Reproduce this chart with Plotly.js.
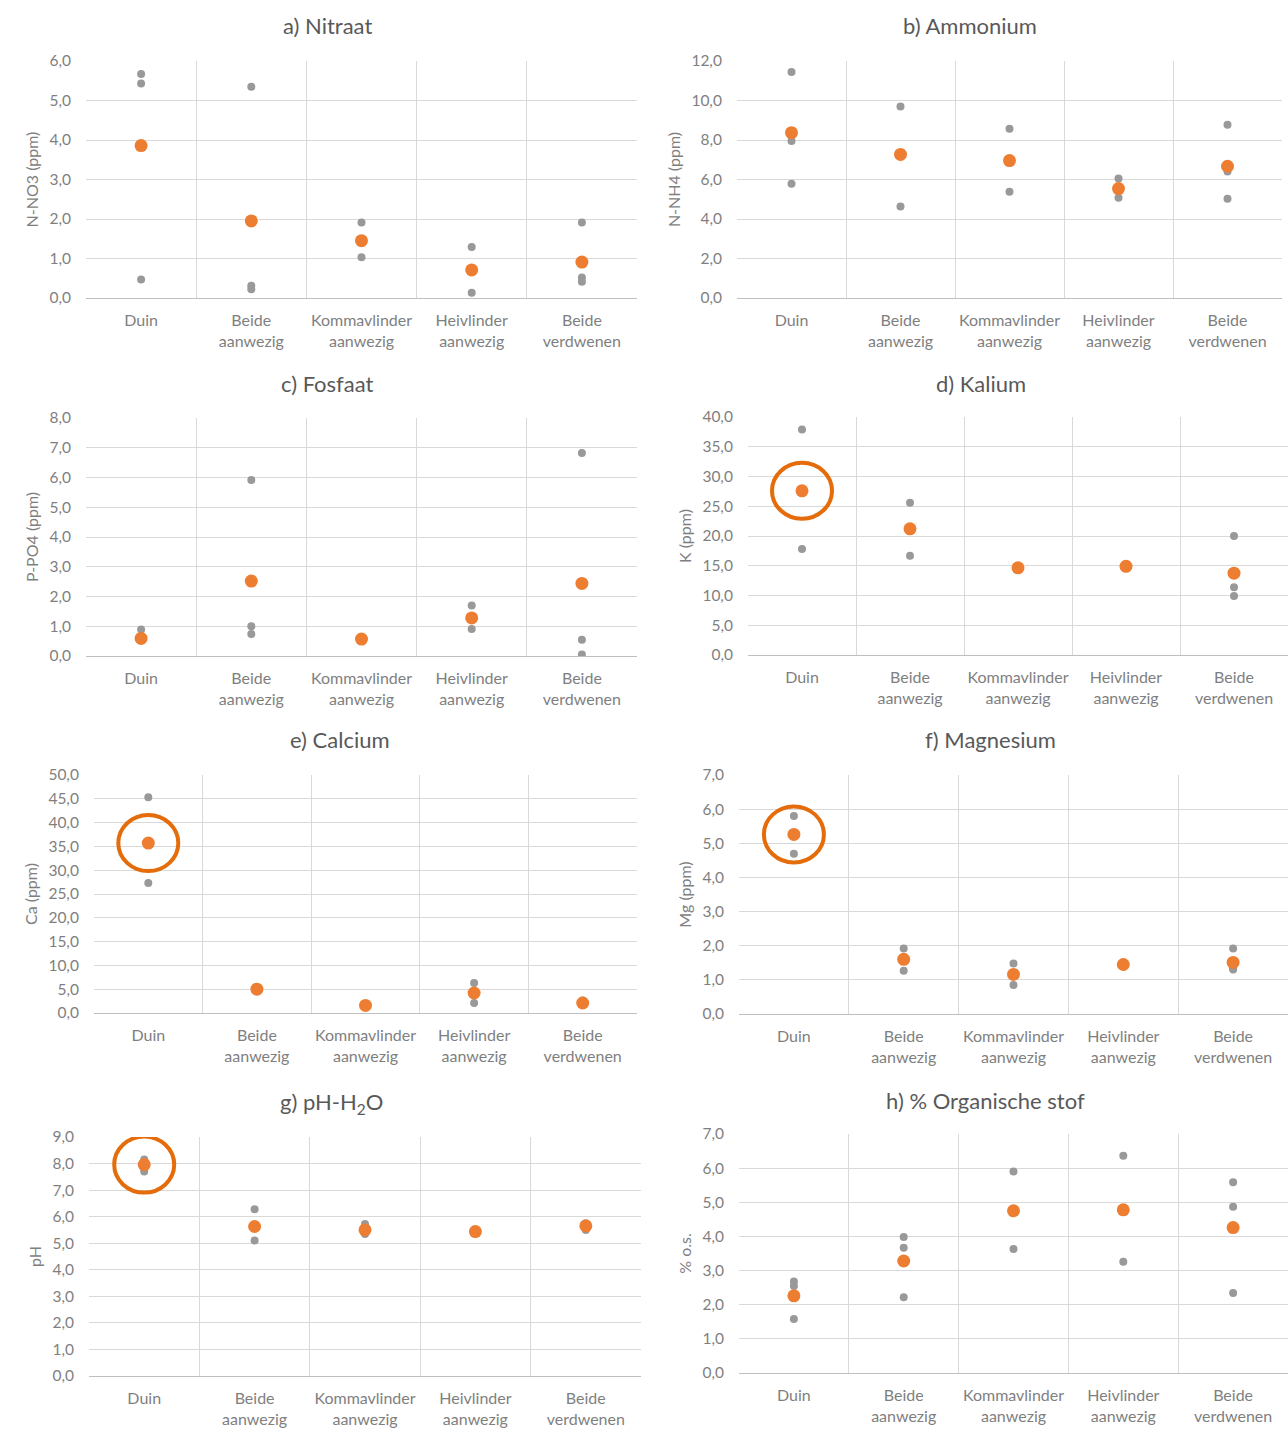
<!DOCTYPE html>
<html>
<head>
<meta charset="utf-8">
<script src="https://cdn.plot.ly/plotly-3.0.1.min.js"></script>
<style>
  html, body { margin: 0; padding: 0; background: #ffffff; }
  #chart { width: 1288px; height: 1440px; }
</style>
</head>
<body>
<div id="chart"></div>
<script>
// ---------- DATA ----------
const categories = ["Duin", "Beide<br>aanwezig", "Kommavlinder<br>aanwezig", "Heivlinder<br>aanwezig", "Beide<br>verdwenen"];

// individual samples per category (gray) and category means (orange)
const nitraatSamples = [[5.67, 5.43, 0.47], [5.35, 0.31, 0.22], [1.91, 1.03], [1.29, 0.13], [1.91, 0.52, 0.41]];
const nitraatMeans = [3.86, 1.95, 1.45, 0.71, 0.91];

const ammoniumSamples = [[11.44, 7.95, 5.78], [9.69, 7.3, 4.63], [8.57, 5.38], [6.05, 5.07], [8.77, 6.4, 5.02]];
const ammoniumMeans = [8.37, 7.27, 6.96, 5.54, 6.67];

const fosfaatSamples = [[0.89, 0.55], [5.92, 1.0, 0.74], [0.62, 0.55], [1.70, 0.91], [6.82, 0.55, 0.05]];
const fosfaatMeans = [0.59, 2.52, 0.57, 1.28, 2.44];

const kaliumSamples = [[37.9, 17.8], [25.6, 16.7], [14.9, 14.5], [15.1, 14.8], [20.0, 11.4, 9.9]];
const kaliumMeans = [27.6, 21.2, 14.65, 14.9, 13.75];

const calciumSamples = [[45.3, 35.5, 27.3], [5.2, 4.8], [1.8, 1.4], [6.3, 2.1], [2.6, 1.7]];
const calciumMeans = [35.7, 5.0, 1.6, 4.2, 2.1];

const magnesiumSamples = [[5.80, 4.69], [1.92, 1.27], [1.48, 0.85], [1.5, 1.4], [1.92, 1.34, 1.30]];
const magnesiumMeans = [5.26, 1.60, 1.16, 1.45, 1.51];

const phSamples = [[8.15, 7.7], [6.28, 5.10], [5.72, 5.35], [5.5, 5.4], [5.75, 5.5]];
const phMeans = [7.96, 5.63, 5.50, 5.44, 5.65];

const orgSamples = [[2.68, 2.55, 1.58], [3.98, 3.67, 2.22], [5.90, 3.63], [6.36, 3.26], [5.59, 4.87, 2.34]];
const orgMeans = [2.26, 3.28, 4.75, 4.78, 4.26];

const yTickMax = [6, 12, 8, 40, 50, 7, 9, 7];
const yTickStep = [1, 2, 1, 5, 5, 1, 1, 1];

const panelTitles = ["a) Nitraat", "b) Ammonium", "c) Fosfaat", "d) Kalium", "e) Calcium", "f) Magnesium", "g) pH-H<sub>2</sub>O", "h) % Organische stof"];
const yTitles = ["N-NO3 (ppm)", "N-NH4 (ppm)", "P-PO4 (ppm)", "K (ppm)", "Ca (ppm)", "Mg (ppm)", "pH", "% o.s."];
const highlightedPanels = [3, 4, 5, 6]; // panels (0-based) where Duin mean is circled

// ---------- LAYOUT (pixel boxes) ----------
const W = 1288, H = 1440;
const boxes = [
  [86, 637, 61, 298],
  [737, 1282, 61, 298],
  [86, 637, 418, 656],
  [748, 1288, 417, 655],
  [94, 637, 775, 1013],
  [739, 1288, 775, 1014],
  [89, 641, 1137, 1376],
  [739, 1288, 1134, 1373]
];
const titlePos = [[327, 25], [970, 25], [327, 383], [981, 383], [340, 740], [990, 740], [331, 1103], [985, 1100]];

const allSamples = [nitraatSamples, ammoniumSamples, fosfaatSamples, kaliumSamples, calciumSamples, magnesiumSamples, phSamples, orgSamples];
const allMeans = [nitraatMeans, ammoniumMeans, fosfaatMeans, kaliumMeans, calciumMeans, magnesiumMeans, phMeans, orgMeans];

const GRAY = '#999999';
const ORANGE = '#ed7d31';
const FONT = 'Lato, "Open Sans", sans-serif';
const TXT = '#7f7f7f';

const data = [];
const layout = {
  width: W, height: H,
  margin: {l: 0, r: 0, t: 0, b: 0},
  paper_bgcolor: '#ffffff',
  plot_bgcolor: '#ffffff',
  showlegend: false,
  separators: ', ',
  font: {family: FONT, color: TXT, size: 15},
  annotations: [],
  shapes: []
};

for (let i = 0; i < 8; i++) {
  const n = i + 1;
  const xa = 'x' + n, ya = 'y' + n;
  const sx = [], sy = [];
  allSamples[i].forEach((vals, c) => vals.forEach(v => { sx.push(categories[c]); sy.push(v); }));
  data.push({
    type: 'scatter', mode: 'markers', x: sx, y: sy, xaxis: xa, yaxis: ya,
    marker: {color: GRAY, size: 8}, hoverinfo: 'y', name: 'monsters'
  });
  data.push({
    type: 'scatter', mode: 'markers', x: categories, y: allMeans[i], xaxis: xa, yaxis: ya,
    marker: {color: ORANGE, size: 13}, hoverinfo: 'y', name: 'gemiddelde'
  });
  const b = boxes[i];
  layout['xaxis' + n] = {
    domain: [b[0] / W, b[1] / W],
    anchor: ya,
    type: 'category',
    categoryorder: 'array', categoryarray: categories,
    range: [-0.5, 4.5],
    tickson: 'boundaries',
    showgrid: true, gridcolor: '#d9d9d9', gridwidth: 1,
    showline: true, linecolor: '#bfbfbf', linewidth: 1,
    ticks: '', ticklabelstandoff: 8,
    tickangle: 0,
    tickfont: {family: FONT, size: 16, color: TXT},
    fixedrange: true
  };
  layout['yaxis' + n] = {
    domain: [1 - b[3] / H, 1 - b[2] / H],
    anchor: xa,
    range: [0, yTickMax[i]],
    dtick: yTickStep[i], tick0: 0,
    tickformat: '.1f',
    showgrid: true, gridcolor: '#d9d9d9', gridwidth: 1,
    zeroline: false, showline: false,
    ticks: 'outside', ticklen: 11, tickcolor: 'rgba(0,0,0,0)',
    tickfont: {family: FONT, size: 15.5, color: TXT},
    title: {text: yTitles[i], standoff: 6, font: {family: FONT, size: 16, color: TXT}},
    fixedrange: true
  };
  layout.annotations.push({
    text: panelTitles[i], xref: 'paper', yref: 'paper',
    x: titlePos[i][0] / W, y: 1 - titlePos[i][1] / H,
    xanchor: 'center', yanchor: 'middle', showarrow: false,
    font: {family: FONT, size: 22, color: '#595959'}
  });
}

highlightedPanels.forEach(i => {
  const n = i + 1;
  layout.shapes.push({
    type: 'circle', xref: 'x' + n, yref: 'y' + n,
    xsizemode: 'pixel', ysizemode: 'pixel',
    xanchor: 0, yanchor: allMeans[i][0],
    x0: -30, x1: 30, y0: -28, y1: 28,
    line: {color: '#e46c0a', width: 4}
  });
});

Plotly.newPlot('chart', data, layout, {displayModeBar: false, staticPlot: true});
</script>
</body>
</html>
